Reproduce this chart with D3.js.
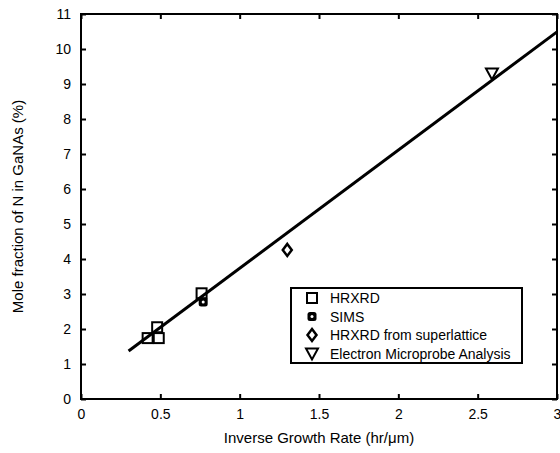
<!DOCTYPE html>
<html><head><meta charset="utf-8">
<script src="https://cdn.jsdelivr.net/npm/d3@7"></script>
<style>body{margin:0;background:#fff}svg{display:block}text{font-family:"Liberation Sans",Arial,sans-serif;fill:#000}</style>
</head><body><svg id="c" width="560" height="453"></svg>
<script>
const xTicks = [0, 0.5, 1, 1.5, 2, 2.5, 3];
const xTickLabels = ["0", "0.5", "1", "1.5", "2", "2.5", "3"];
const yTicks = [0,1,2,3,4,5,6,7,8,9,10,11];
const hrxrdX = [0.42, 0.49, 0.48, 0.76];
const hrxrdY = [1.74, 1.74, 2.05, 3.02];
const simsX = [0.77];
const simsY = [2.77];
const superX = [1.30];
const superY = [4.26];
const empaX = [2.59];
const empaY = [9.30];
const fitX = [0.30, 3.0];
const fitY = [1.37, 10.49];
const legendLabels = ["HRXRD", "SIMS", "HRXRD from superlattice", "Electron Microprobe Analysis"];

const svg = d3.select("#c");
const m = {l:81, r:557, t:14, b:399};
const x = d3.scaleLinear().domain([0,3]).range([m.l, m.r]);
const y = d3.scaleLinear().domain([0,11]).range([m.b, m.t]);

svg.append("rect").attr("x", m.l).attr("y", m.t).attr("width", m.r-m.l).attr("height", m.b-m.t)
  .attr("fill","none").attr("stroke","#000").attr("stroke-width",2);

const xa = svg.append("g").attr("transform",`translate(0,${m.b})`)
  .call(d3.axisBottom(x).tickValues(xTicks).tickFormat((d,i)=>xTickLabels[i]).tickSize(-5).tickPadding(10));
const xt = svg.append("g").attr("transform",`translate(0,${m.t})`)
  .call(d3.axisTop(x).tickValues(xTicks).tickFormat("").tickSize(-5));
const ya = svg.append("g").attr("transform",`translate(${m.l},0)`)
  .call(d3.axisLeft(y).tickValues(yTicks).tickSize(-5).tickPadding(10));
const yr = svg.append("g").attr("transform",`translate(${m.r},0)`)
  .call(d3.axisRight(y).tickValues(yTicks).tickFormat("").tickSize(-5));
[xa,xt,ya,yr].forEach(g=>{
  g.select(".domain").remove();
  g.selectAll("line").attr("stroke","#000").attr("stroke-width",2);
  g.selectAll("text").attr("font-size",14).attr("font-family","Liberation Sans, Arial, sans-serif").attr("fill","#000");
});

svg.append("text").attr("x", (m.l+m.r)/2).attr("y", 443).attr("text-anchor","middle").attr("font-size",15)
  .text("Inverse Growth Rate (hr/\u03BCm)");
svg.append("text").attr("transform",`translate(23,${(m.t+m.b)/2}) rotate(-90)`).attr("text-anchor","middle").attr("font-size",15)
  .text("Mole fraction of N in GaNAs (%)");

function square(g, cx, cy){ g.append("rect").attr("x",cx-5).attr("y",cy-5).attr("width",10).attr("height",10).attr("fill","#fff").attr("stroke","#000").attr("stroke-width",2); }
function sims(g, cx, cy){ g.append("rect").attr("x",cx-4.5).attr("y",cy-4.5).attr("width",9).attr("height",9).attr("rx",2.5).attr("fill","#000"); g.append("circle").attr("cx",cx).attr("cy",cy).attr("r",1.5).attr("fill","#fff"); }
function diamond(g, cx, cy){ g.append("path").attr("d",`M${cx},${cy-6}L${cx+4.5},${cy}L${cx},${cy+6}L${cx-4.5},${cy}Z`).attr("fill","#fff").attr("stroke","#000").attr("stroke-width",2.5); }
function tri(g, cx, cy){ g.append("path").attr("d",`M${cx-6},${cy-5}L${cx+6},${cy-5}L${cx},${cy+6}Z`).attr("fill","#fff").attr("stroke","#000").attr("stroke-width",2); }

const pts = svg.append("g");
hrxrdX.forEach((v,i)=>square(pts, x(v), y(hrxrdY[i])));
simsX.forEach((v,i)=>sims(pts, x(v), y(simsY[i])));
superX.forEach((v,i)=>diamond(pts, x(v), y(superY[i])));
empaX.forEach((v,i)=>tri(pts, x(v), y(empaY[i])));

svg.append("line").attr("x1",x(fitX[0])).attr("y1",y(fitY[0])).attr("x2",x(fitX[1])).attr("y2",y(fitY[1]))
  .attr("stroke","#000").attr("stroke-width",3);

const lg = svg.append("g");
lg.append("rect").attr("x",291).attr("y",288).attr("width",231).attr("height",75).attr("fill","#fff").attr("stroke","#000").attr("stroke-width",2);
const fns = [square, sims, diamond, tri];
legendLabels.forEach((t,i)=>{
  const yy = 298 + i*18.5;
  fns[i](lg, 312, yy);
  lg.append("text").attr("x",330).attr("y",yy+5).attr("font-size",14).text(t);
});
</script></body></html>
